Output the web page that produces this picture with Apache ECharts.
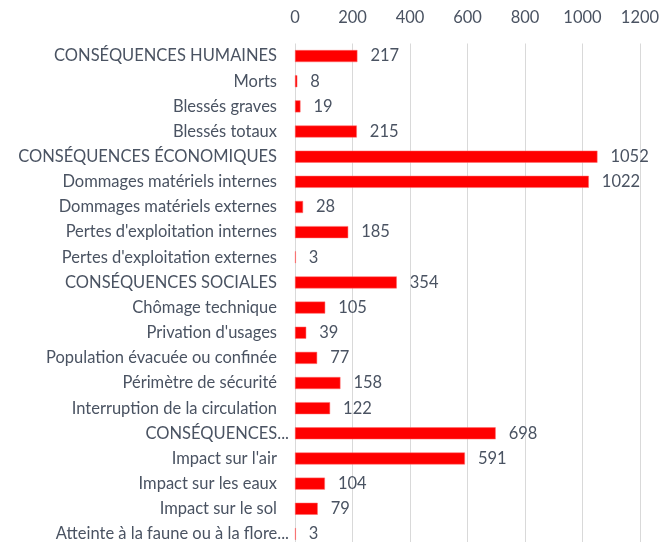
<!DOCTYPE html>
<html lang="fr">
<head>
    <meta charset="UTF-8">
    <script src="https://cdn.jsdelivr.net/npm/echarts@6/dist/echarts.min.js"></script>
    <title>Conséquences</title>
    <style>
        html, body { margin: 0; padding: 0; background: #fff; }
    </style>
</head>
<body>
<div id="main" style="width: 661px;height:542px;"></div>
<script type="text/javascript">
    // catégories, de haut en bas
    var categories = [
        'CONSÉQUENCES HUMAINES', 'Morts', 'Blessés graves', 'Blessés totaux',
        'CONSÉQUENCES ÉCONOMIQUES', 'Dommages matériels internes', 'Dommages matériels externes',
        "Pertes d'exploitation internes", "Pertes d'exploitation externes",
        'CONSÉQUENCES SOCIALES', 'Chômage technique', "Privation d'usages",
        'Population évacuée ou confinée', 'Périmètre de sécurité', 'Interruption de la circulation',
        'CONSÉQUENCES...', "Impact sur l'air", 'Impact sur les eaux', 'Impact sur le sol',
        'Atteinte à la faune ou à la flore...'
    ];
    var values = [217, 8, 19, 215, 1052, 1022, 28, 185, 3, 354, 105, 39, 77, 158, 122, 698, 591, 104, 79, 3];
    var xTicks = [0, 200, 400, 600, 800, 1000, 1200];

    var myChart = echarts.init(document.getElementById('main'));
    var font = 'Lato, "Open Sans", sans-serif';
    var txt = '#4a5362';

    var option = {
        animation: false,
        grid: {
            left: 295,
            right: 21,
            top: 43.5,
            height: 503,
            outerBoundsMode: 'none'
        },
        xAxis: {
            type: 'value',
            position: 'top',
            min: xTicks[0],
            max: xTicks[xTicks.length - 1],
            interval: 200,
            axisLine: {show: false},
            axisTick: {show: false},
            axisLabel: {
                color: txt, fontSize: 16.5, fontFamily: font, margin: 17,
                formatter: function (v) { return String(v); }
            },
            splitLine: {lineStyle: {color: '#d9d9d9', width: 1}}
        },
        yAxis: {
            type: 'category',
            inverse: true,
            data: categories,
            axisLine: {show: false},
            axisTick: {show: false},
            axisLabel: {
                margin: 5,
                // les libellés tronqués débordent un peu plus à droite
                formatter: function (v) {
                    return v.slice(-3) === '...' ? '{e|' + v + '}' : '{n|' + v + '}';
                },
                rich: {
                    n: {color: txt, fontSize: 16.5, fontFamily: font, padding: [0, 13, 0, 0]},
                    e: {color: txt, fontSize: 16.5, fontFamily: font, padding: [0, 1, 0, 0]}
                }
            }
        },
        series: [{
            type: 'bar',
            data: values,
            barWidth: 12,
            itemStyle: {color: '#ff0000', borderColor: '#ff6b6b', borderWidth: 0.5},
            label: {
                show: true,
                position: 'right',
                distance: 13,
                color: txt,
                fontSize: 16.5,
                fontFamily: font
            }
        }]
    };
    myChart.setOption(option);
</script>
</body>
</html>
